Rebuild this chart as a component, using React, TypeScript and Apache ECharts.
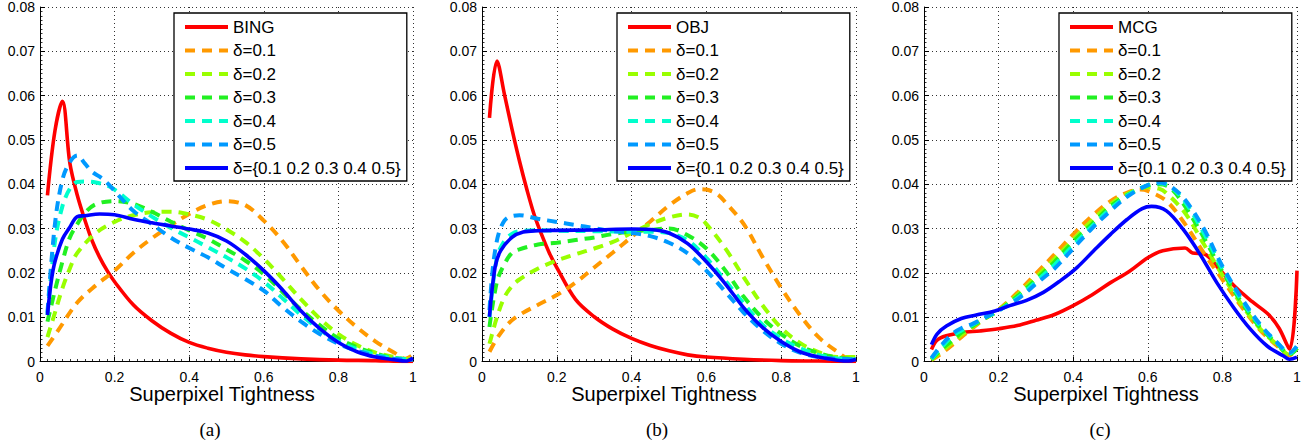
import React, { useEffect, useRef } from 'react';
import * as echarts from 'echarts';

// ---------- data (x = superpixel tightness, y = frequency) ----------
const xTicks = [0, 0.2, 0.4, 0.6, 0.8, 1];
const yTicks = [0, 0.01, 0.02, 0.03, 0.04, 0.05, 0.06, 0.07, 0.08];
const panelTitles = ['(a)', '(b)', '(c)'];
const baseNames = ['BING', 'OBJ', 'MCG'];
const deltaNames = ['δ=0.1', 'δ=0.2', 'δ=0.3', 'δ=0.4', 'δ=0.5', 'δ={0.1 0.2 0.3 0.4 0.5}'];

// panel (a)
const bingA = [[0.02,0.0375],[0.04,0.052],[0.06,0.0587],[0.08,0.0448],[0.1,0.0375],[0.12,0.032],[0.14,0.0272],[0.16,0.0235],[0.18,0.0205],[0.2,0.018],[0.25,0.0128],[0.3,0.0092],[0.35,0.0064],[0.4,0.0043],[0.45,0.003],[0.5,0.0021],[0.55,0.0015],[0.6,0.0011],[0.7,0.0006],[0.8,0.0003],[0.9,0.0002],[0.98,0.0],[1.0,0.0]];
const d01A = [[0.02,0.0035],[0.05,0.0072],[0.1,0.0133],[0.15,0.0172],[0.2,0.0205],[0.25,0.0245],[0.3,0.0278],[0.35,0.0307],[0.4,0.0333],[0.45,0.0353],[0.5,0.0362],[0.55,0.0353],[0.6,0.0318],[0.65,0.0272],[0.7,0.0215],[0.75,0.016],[0.8,0.0115],[0.85,0.0077],[0.9,0.0045],[0.95,0.002],[0.98,0.0006],[1.0,0.0015]];
const d02A = [[0.02,0.0055],[0.04,0.011],[0.06,0.0165],[0.08,0.021],[0.1,0.0245],[0.15,0.029],[0.2,0.0315],[0.25,0.033],[0.3,0.0337],[0.35,0.0338],[0.4,0.0332],[0.45,0.032],[0.5,0.0298],[0.55,0.027],[0.6,0.0232],[0.65,0.0187],[0.7,0.014],[0.75,0.0097],[0.8,0.0062],[0.85,0.0037],[0.9,0.002],[0.95,0.001],[0.98,0.0005],[1.0,0.0007]];
const d03A = [[0.02,0.009],[0.04,0.016],[0.06,0.0225],[0.08,0.028],[0.1,0.031],[0.12,0.0335],[0.15,0.0355],[0.2,0.0362],[0.25,0.0356],[0.3,0.0338],[0.35,0.0316],[0.4,0.0296],[0.45,0.0277],[0.5,0.0253],[0.55,0.0228],[0.6,0.0197],[0.65,0.0157],[0.7,0.0117],[0.75,0.0082],[0.8,0.0052],[0.85,0.0032],[0.9,0.0018],[0.95,0.0008],[1.0,0.0005]];
const d04A = [[0.02,0.0105],[0.04,0.027],[0.06,0.035],[0.08,0.039],[0.1,0.0405],[0.12,0.0406],[0.15,0.0404],[0.18,0.0397],[0.2,0.0388],[0.25,0.0355],[0.3,0.0327],[0.35,0.0302],[0.4,0.028],[0.45,0.0258],[0.5,0.0235],[0.55,0.021],[0.6,0.018],[0.65,0.0143],[0.7,0.0105],[0.75,0.0072],[0.8,0.0045],[0.85,0.0028],[0.9,0.0015],[0.95,0.0007],[1.0,0.0005]];
const d05A = [[0.02,0.011],[0.04,0.031],[0.06,0.041],[0.08,0.045],[0.1,0.0465],[0.12,0.0447],[0.14,0.0428],[0.16,0.0417],[0.18,0.0403],[0.2,0.0385],[0.25,0.034],[0.3,0.031],[0.35,0.028],[0.4,0.0256],[0.45,0.0235],[0.5,0.021],[0.55,0.0186],[0.6,0.016],[0.65,0.0123],[0.7,0.009],[0.75,0.0062],[0.8,0.004],[0.85,0.0024],[0.9,0.0013],[0.95,0.0006],[1.0,0.0004]];
const dAllA = [[0.02,0.0105],[0.03,0.018],[0.04,0.0225],[0.06,0.0276],[0.08,0.0303],[0.1,0.0327],[0.12,0.0329],[0.16,0.0333],[0.2,0.0331],[0.25,0.0321],[0.3,0.0313],[0.35,0.0306],[0.4,0.0299],[0.45,0.029],[0.5,0.0272],[0.55,0.0242],[0.6,0.0205],[0.65,0.0162],[0.7,0.0114],[0.75,0.0074],[0.8,0.0043],[0.85,0.0022],[0.9,0.001],[0.95,0.0004],[0.98,0.0001],[1.0,0.0008]];

// panel (b)
const objB = [[0.02,0.055],[0.04,0.0678],[0.06,0.0603],[0.08,0.0525],[0.1,0.0453],[0.12,0.0388],[0.14,0.033],[0.16,0.0285],[0.18,0.0245],[0.2,0.0212],[0.25,0.014],[0.3,0.0101],[0.35,0.0073],[0.4,0.0052],[0.45,0.0036],[0.5,0.0024],[0.55,0.0015],[0.6,0.001],[0.7,0.0005],[0.8,0.0002],[0.9,0.0001],[1.0,0.0]];
const d01B = [[0.02,0.0022],[0.04,0.0052],[0.07,0.0085],[0.1,0.0105],[0.15,0.0128],[0.2,0.015],[0.25,0.0178],[0.3,0.0212],[0.35,0.0246],[0.4,0.0281],[0.45,0.0316],[0.5,0.0352],[0.55,0.038],[0.58,0.0389],[0.6,0.0388],[0.63,0.0377],[0.65,0.036],[0.7,0.031],[0.75,0.0236],[0.8,0.0166],[0.85,0.0105],[0.9,0.0055],[0.95,0.0022],[0.98,0.0007],[1.0,0.0015]];
const d02B = [[0.02,0.004],[0.04,0.01],[0.06,0.0145],[0.08,0.017],[0.1,0.0185],[0.15,0.021],[0.2,0.0228],[0.25,0.0242],[0.3,0.0255],[0.35,0.027],[0.4,0.029],[0.45,0.031],[0.5,0.0325],[0.55,0.0332],[0.58,0.0325],[0.6,0.031],[0.65,0.0256],[0.7,0.019],[0.75,0.0127],[0.8,0.0076],[0.85,0.0042],[0.9,0.0021],[0.95,0.001],[1.0,0.001]];
const d03B = [[0.02,0.0078],[0.04,0.018],[0.06,0.022],[0.08,0.0245],[0.1,0.0253],[0.15,0.0264],[0.2,0.0268],[0.25,0.0274],[0.3,0.028],[0.35,0.0288],[0.4,0.0293],[0.45,0.0297],[0.5,0.03],[0.55,0.0285],[0.6,0.0255],[0.65,0.0206],[0.7,0.0146],[0.75,0.0098],[0.8,0.0062],[0.85,0.0035],[0.9,0.0019],[0.95,0.0009],[1.0,0.0005]];
const d04B = [[0.02,0.01],[0.04,0.0235],[0.06,0.0272],[0.08,0.0288],[0.1,0.0294],[0.15,0.0296],[0.2,0.0295],[0.3,0.0294],[0.4,0.0293],[0.45,0.0293],[0.5,0.029],[0.55,0.0273],[0.6,0.0234],[0.65,0.0183],[0.7,0.0131],[0.75,0.0083],[0.8,0.0052],[0.85,0.003],[0.9,0.0015],[0.95,0.0007],[1.0,0.0005]];
const d05B = [[0.02,0.0116],[0.035,0.025],[0.06,0.0318],[0.1,0.033],[0.15,0.0322],[0.2,0.0315],[0.25,0.0308],[0.3,0.0301],[0.35,0.0294],[0.4,0.029],[0.45,0.0283],[0.5,0.0268],[0.55,0.0244],[0.6,0.0205],[0.65,0.0158],[0.7,0.011],[0.75,0.007],[0.8,0.004],[0.85,0.002],[0.9,0.001],[0.95,0.0006],[1.0,0.0005]];
const dAllB = [[0.02,0.0101],[0.035,0.0213],[0.05,0.025],[0.08,0.028],[0.11,0.0292],[0.15,0.0295],[0.2,0.0296],[0.3,0.0297],[0.4,0.0299],[0.45,0.0298],[0.5,0.029],[0.55,0.0266],[0.6,0.0225],[0.65,0.0176],[0.7,0.0121],[0.75,0.0077],[0.8,0.0045],[0.85,0.0022],[0.9,0.001],[0.95,0.0003],[0.98,0.0001],[1.0,0.0005]];

// panel (c)
const mcgC = [[0.02,0.0027],[0.035,0.0048],[0.06,0.0058],[0.1,0.0065],[0.15,0.0069],[0.2,0.0074],[0.25,0.0081],[0.3,0.0093],[0.35,0.0106],[0.4,0.0126],[0.45,0.015],[0.5,0.0178],[0.55,0.0203],[0.6,0.0234],[0.64,0.025],[0.7,0.0256],[0.72,0.0245],[0.75,0.0243],[0.79,0.021],[0.835,0.0168],[0.88,0.0135],[0.925,0.0105],[0.952,0.0075],[0.98,0.0028],[1.0,0.0205]];
const d01C = [[0.02,0.0003],[0.05,0.002],[0.08,0.004],[0.1,0.0055],[0.13,0.0075],[0.16,0.0095],[0.2,0.0117],[0.25,0.0155],[0.3,0.0198],[0.35,0.0242],[0.4,0.0287],[0.45,0.0328],[0.5,0.0362],[0.55,0.0383],[0.58,0.0388],[0.6,0.0385],[0.65,0.0362],[0.7,0.031],[0.75,0.0245],[0.8,0.0185],[0.85,0.0125],[0.9,0.0072],[0.95,0.0033],[0.98,0.0014],[1.0,0.003]];
const d02C = [[0.02,0.0004],[0.05,0.0025],[0.08,0.0045],[0.1,0.006],[0.13,0.0078],[0.16,0.0095],[0.2,0.0116],[0.25,0.015],[0.3,0.019],[0.35,0.0232],[0.4,0.0275],[0.45,0.0318],[0.5,0.0355],[0.55,0.038],[0.6,0.0393],[0.63,0.039],[0.65,0.038],[0.7,0.0335],[0.75,0.0265],[0.8,0.0195],[0.85,0.013],[0.9,0.0075],[0.95,0.0035],[0.98,0.0015],[1.0,0.003]];
const d03C = [[0.02,0.0005],[0.05,0.003],[0.08,0.005],[0.1,0.0065],[0.13,0.008],[0.16,0.0096],[0.2,0.0115],[0.25,0.0147],[0.3,0.0185],[0.35,0.0225],[0.4,0.027],[0.45,0.031],[0.5,0.035],[0.55,0.0378],[0.6,0.0397],[0.63,0.04],[0.66,0.0392],[0.7,0.035],[0.75,0.028],[0.8,0.0203],[0.85,0.0135],[0.9,0.0078],[0.95,0.0037],[0.98,0.0016],[1.0,0.003]];
const d04C = [[0.02,0.0006],[0.05,0.0035],[0.08,0.006],[0.1,0.007],[0.13,0.0083],[0.16,0.0097],[0.2,0.0115],[0.25,0.0143],[0.3,0.018],[0.35,0.0218],[0.4,0.0262],[0.45,0.0305],[0.5,0.0345],[0.55,0.0377],[0.6,0.0398],[0.63,0.0402],[0.66,0.0395],[0.7,0.036],[0.75,0.029],[0.8,0.021],[0.85,0.014],[0.9,0.0082],[0.95,0.0039],[0.98,0.0018],[1.0,0.0035]];
const d05C = [[0.02,0.0008],[0.05,0.004],[0.08,0.0065],[0.1,0.0075],[0.13,0.0085],[0.16,0.0098],[0.2,0.0115],[0.25,0.014],[0.3,0.0175],[0.35,0.021],[0.4,0.0255],[0.45,0.03],[0.5,0.034],[0.55,0.0375],[0.6,0.0398],[0.63,0.0404],[0.66,0.0396],[0.7,0.0365],[0.75,0.03],[0.8,0.0215],[0.85,0.0145],[0.9,0.0085],[0.95,0.004],[0.98,0.002],[1.0,0.0035]];
const dAllC = [[0.02,0.0038],[0.035,0.0062],[0.06,0.008],[0.1,0.0097],[0.14,0.0105],[0.19,0.0114],[0.23,0.0126],[0.275,0.0138],[0.32,0.0156],[0.365,0.0182],[0.41,0.0212],[0.455,0.025],[0.5,0.0287],[0.545,0.0321],[0.585,0.0345],[0.61,0.035],[0.65,0.034],[0.695,0.0298],[0.74,0.0242],[0.785,0.0178],[0.83,0.0122],[0.875,0.0073],[0.92,0.0035],[0.963,0.0013],[0.98,0.0005],[1.0,0.001]];

const panelData = [
  [bingA, d01A, d02A, d03A, d04A, d05A, dAllA],
  [objB, d01B, d02B, d03B, d04B, d05B, dAllB],
  [mcgC, d01C, d02C, d03C, d04C, d05C, dAllC],
];

// ---------- styles ----------
const colors = ['#ff0000', '#ff9900', '#99ff00', '#22f022', '#00ffcc', '#0099ff', '#0000ff'];
const dashed = [false, true, true, true, true, true, false];
const SANS = '"Liberation Sans", Arial, Helvetica, sans-serif';
const SERIF = '"Liberation Serif", "Times New Roman", serif';

const gridLefts = [40, 482, 924];
const gridWidths = [373, 374, 373];
const legendLefts = [174, 617, 1059];
const titleCenters = [222, 664, 1106];
const captionCenters = [210, 657, 1100];

export default function App() {
  const ref = useRef<HTMLDivElement>(null);

  useEffect(() => {
    if (!ref.current) return;
    const chart = echarts.init(ref.current, undefined, { renderer: 'svg' });

    const grids = gridLefts.map((l, i) => ({ left: l, top: 6.5, width: gridWidths[i], height: 355 }));

    const commonAxis = {
      axisLine: { show: true, onZero: false, lineStyle: { color: '#000', width: 1 } },
      axisTick: { show: true, inside: true, length: 5, lineStyle: { color: '#000', width: 1 } },
      minorTick: { show: true, splitNumber: 10, length: 2.5, lineStyle: { color: '#000', width: 0.8 } },
      splitLine: { show: true, lineStyle: { color: '#333', width: 1, type: [1, 3] } },
    };

    const xAxes = grids.map((_, i) => ({
      type: 'value',
      gridIndex: i,
      min: xTicks[0],
      max: xTicks[xTicks.length - 1],
      interval: 0.2,
      ...commonAxis,
      axisLabel: {
        color: '#000', fontSize: 14, fontFamily: SANS, margin: 8,
        formatter: (v: number) => String(parseFloat(v.toFixed(1))),
      },
    }));

    const yAxes = grids.map((_, i) => ({
      type: 'value',
      gridIndex: i,
      min: yTicks[0],
      max: yTicks[yTicks.length - 1],
      interval: 0.01,
      ...commonAxis,
      axisLabel: {
        color: '#000', fontSize: 14, fontFamily: SANS, margin: 5,
        formatter: (v: number) => (Math.abs(v) < 1e-9 ? '0' : v.toFixed(2)),
      },
    }));

    const series: any[] = [];
    panelData.forEach((curves, p) => {
      curves.forEach((data, k) => {
        const name = k === 0 ? baseNames[p] : deltaNames[k - 1];
        series.push({
          type: 'line',
          name,
          xAxisIndex: p,
          yAxisIndex: p,
          data,
          symbol: 'none',
          showSymbol: false,
          smooth: 0.35,
          silent: true,
          z: 2 + k,
          itemStyle: { color: colors[k] },
          lineStyle: {
            color: colors[k],
            width: dashed[k] ? 4 : 3.6,
            type: dashed[k] ? [10, 7] : 'solid',
            cap: 'butt',
          },
        });
      });
    });

    const legends = legendLefts.map((l, p) => ({
      orient: 'vertical',
      left: l,
      top: 13,
      itemWidth: 43,
      itemHeight: 16,
      itemGap: 6.5,
      padding: [5.5, 6, 4.5, 9],
      borderColor: '#000',
      borderWidth: 1.3,
      borderRadius: 0,
      backgroundColor: '#fff',
      selectedMode: false,
      itemStyle: { opacity: 0, borderWidth: 0 },
      lineStyle: { width: 4, opacity: 1, type: 'inherit' },
      textStyle: { fontSize: 17, fontFamily: SANS, color: '#000' },
      data: [baseNames[p], ...deltaNames],
      z: 10,
    }));

    const graphics: any[] = [];
    titleCenters.forEach((cx) => {
      graphics.push({
        type: 'text', silent: true, x: cx, y: 394,
        style: { text: 'Superpixel Tightness', fontSize: 20, fontFamily: SANS, fill: '#000', textAlign: 'center', textVerticalAlign: 'middle' },
      });
    });
    captionCenters.forEach((cx, i) => {
      graphics.push({
        type: 'text', silent: true, x: cx, y: 429,
        style: { text: panelTitles[i], fontSize: 19, fontFamily: SERIF, fill: '#000', textAlign: 'center', textVerticalAlign: 'middle' },
      });
    });

    chart.setOption({
      animation: false,
      backgroundColor: '#fff',
      grid: grids,
      xAxis: xAxes,
      yAxis: yAxes,
      legend: legends,
      series,
      graphic: graphics,
    });

    return () => chart.dispose();
  }, []);

  return (
    <div
      ref={ref}
      style={{ position: 'absolute', left: 0, top: 0, width: 1307, height: 442, background: '#fff' }}
    />
  );
}
